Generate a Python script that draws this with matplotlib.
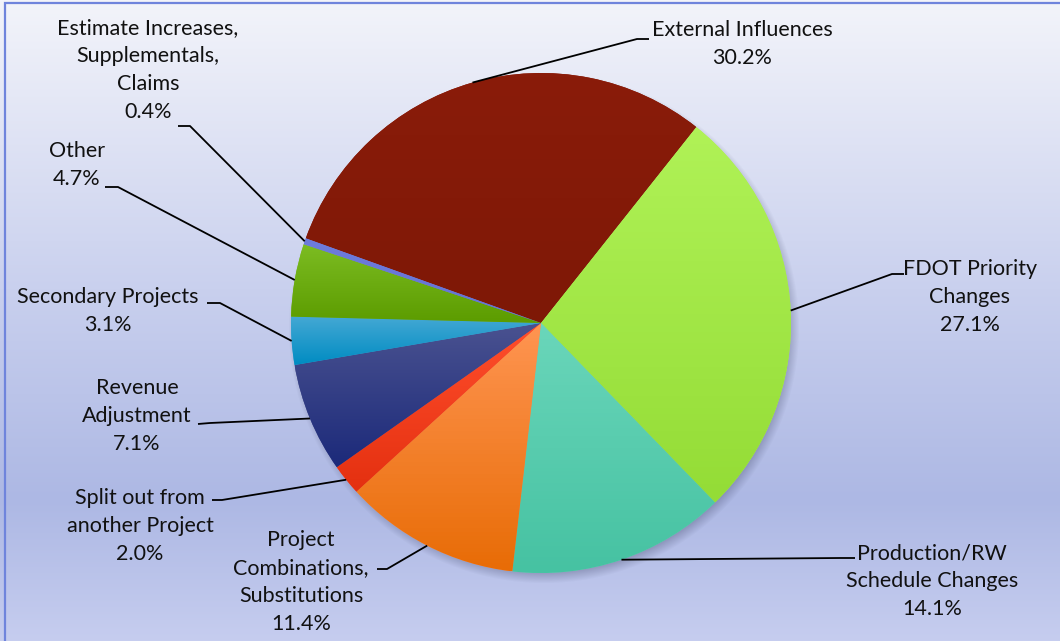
import numpy as np
import matplotlib
matplotlib.use("Agg")
import matplotlib.pyplot as plt
from matplotlib.colors import to_rgb
from matplotlib.patches import Rectangle

plt.rcParams['font.family'] = ['Lato', 'DejaVu Sans']

# slices, clockwise from the top
labels = ["External Influences", "FDOT Priority\nChanges", "Production/RW\nSchedule Changes",
          "Project\nCombinations,\nSubstitutions", "Split out from\nanother Project",
          "Revenue\nAdjustment", "Secondary Projects", "Other",
          "Estimate Increases,\nSupplementals,\nClaims"]
shares = [30.2, 27.1, 14.1, 11.4, 2.0, 7.1, 3.1, 4.7, 0.4]

# (top colour, bottom colour) of each slice gradient
tops = ["#8a1c0a", "#b0f257", "#6ad6ba", "#ff9552", "#ff4e2c", "#4a5290", "#44a8d4", "#7cbc22", "#6e7cdc"]
bottoms = ["#7e1806", "#94dc36", "#46c2a2", "#e86c06", "#e43010", "#1c2a7a", "#008cc2", "#5c9c00", "#6472d4"]

# label block centres, elbow of the leader and end of its short tail (pixel coords, y down)
label_xy = [(742, 44), (970, 297), (932, 581), (301, 582), (140, 526), (137, 416), (108, 311), (77, 165), (148, 70)]
elbow_xy = [(637, 39), (892, 274), (840, 558), (387, 569), (222, 500), (210, 423), (220, 303), (118, 187), (190, 126)]
tail_xy = [(649, 39), (904, 274), (855, 558), (377, 569), (212, 500), (198, 424), (207, 303), (105, 187), (178, 126)]

W, H = 1060, 641
cx, cy, R = 541, H - 323, 250

fig = plt.figure(figsize=(W / 100, H / 100), dpi=100)
ax = fig.add_axes([0, 0, 1, 1])

# background: pale at the top, deeper lavender low down, a little lighter at the very bottom
stops_y = [0.0, 0.45, 0.78, 1.0]
stops_c = [to_rgb("#f3f4fa"), to_rgb("#c9d0ee"), to_rgb("#adb8e4"), to_rgb("#c6cdef")]
yy = np.linspace(0, 1, H)
bg = np.stack([np.interp(yy, stops_y, [c[i] for c in stops_c]) for i in range(3)], axis=-1)
bg = np.repeat(bg[:, None, :], 2, axis=1)
ax.imshow(bg, extent=[0, W, 0, H], origin="upper", aspect="auto", zorder=0)

ax.add_patch(Rectangle((5, -20), W + 40, H - 3 + 20, fill=False, edgecolor="#6f84dc", lw=1.6, zorder=1))

# soft drop shadow under the pie
gx, gy = np.meshgrid(np.arange(cx - R - 30, cx + R + 30), np.arange(cy - R - 30, cy + R + 30))
d = np.hypot(gx - (cx + 3), gy - (cy - 5))
alpha = np.clip((R + 6 - d) / 14.0, 0, 1) * 0.4
sh = np.zeros(d.shape + (4,))
sh[..., :3] = to_rgb("#3a3f60")
sh[..., 3] = alpha
ax.imshow(sh, extent=[gx.min(), gx.max(), gy.min(), gy.max()], origin="lower", aspect="auto", zorder=1.5)

wedges, _ = ax.pie(shares, startangle=160.2, counterclock=False, center=(cx, cy), radius=R,
                   colors=tops, wedgeprops=dict(edgecolor="none", linewidth=0, zorder=2), frame=True)

for w, top, bot in zip(wedges, tops, bottoms):
    bb = w.get_path().get_extents()
    t = np.linspace(0, 1, 64)[:, None]
    grad = (1 - t) * np.array(to_rgb(top)) + t * np.array(to_rgb(bot))
    grad = np.repeat(grad[:, None, :], 2, axis=1)
    im = ax.imshow(grad, extent=[bb.x0, bb.x1, bb.y0, bb.y1], origin="upper", aspect="auto", zorder=2.5)
    im.set_clip_path(w)

ax.set_xlim(0, W)
ax.set_ylim(0, H)
ax.axis("off")

# leader lines and labels
for w, lab, share, (lx, ly), (ex, ey), (tx, ty) in zip(wedges, labels, shares, label_xy, elbow_xy, tail_xy):
    mid = np.deg2rad((w.theta1 + w.theta2) / 2)
    ax0, ay0 = cx + R * np.cos(mid), cy + R * np.sin(mid)
    ax.plot([ax0, ex, tx], [ay0, H - ey, H - ty], color="black", lw=1.3, zorder=3,
            solid_capstyle="butt")
    ax.text(lx, H - ly, f"{lab}\n{share:.1f}%", ha="center", va="center", fontsize=15.5,
            linespacing=1.5, color="#111111", zorder=4)

fig.savefig("out.png", dpi=100)
